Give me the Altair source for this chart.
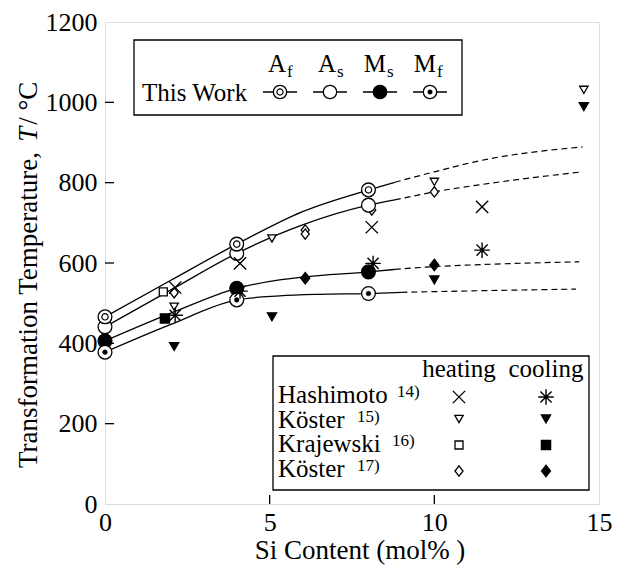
import altair as alt
import pandas as pd

FONT = "Liberation Serif"

# ---------------- data ----------------
# This Work (Si mol%, temperature degC)
tw_si = [0, 4, 8]
tw_Af = [466, 647, 782]
tw_As = [441, 624, 744]
tw_Ms = [406, 537, 578]
tw_Mf = [378, 508, 524]

# fitted curves (solid) and extrapolations (dashed)
af_fit_x = [0, 2, 4, 6, 8, 8.8]
af_fit_y = [466, 557, 647, 728, 782, 801]
af_ext_x = [8.8, 10, 11.4, 14.5]
af_ext_y = [801, 827, 855, 889]

as_fit_x = [0, 2, 4, 6, 8, 8.8]
as_fit_y = [441, 533, 624, 695, 744, 757]
as_ext_x = [8.8, 10, 11.4, 14.5]
as_ext_y = [757, 777, 795, 827]

ms_fit_x = [0, 2, 4, 5.3, 6, 8, 8.8]
ms_fit_y = [406, 475, 537, 558, 565, 578, 584]
ms_ext_x = [8.8, 10, 11.4, 14.4]
ms_ext_y = [584, 591, 596, 603]

mf_fit_x = [0, 2, 4, 5.3, 6.5, 8, 9]
mf_fit_y = [378, 447, 508, 518, 522, 524, 527]
mf_ext_x = [9, 11.4, 14.3]
mf_ext_y = [527, 531, 535]

# literature data
hash_h_x = [2.13, 4.1, 8.1, 11.45]
hash_h_y = [539, 599, 689, 740]
hash_c_x = [2.13, 4.1, 8.14, 11.45]
hash_c_y = [470, 530, 599, 632]

k15_h_x = [2.1, 5.07, 10.0, 14.54]
k15_h_y = [491, 661, 802, 1031]
k15_c_x = [2.1, 5.07, 10.0, 14.54]
k15_c_y = [392, 466, 558, 989]

kraj_h_x = [1.77]
kraj_h_y = [528]
kraj_c_x = [1.82]
kraj_c_y = [462]

k17_h_x = [2.1, 6.08, 6.08, 8.1, 10.0]
k17_h_y = [526, 682, 672, 732, 777]
k17_c_x = [6.08, 10.0]
k17_c_y = [562, 595]

x_tick_labels = [0, 5, 10, 15]
y_tick_labels = [0, 200, 400, 600, 800, 1000, 1200]
x_inner_ticks = [5, 10]
y_inner_ticks = [200, 400, 600, 800, 1000]

# ---------------- layout ----------------
W, H = 494, 482
LBL = 26
LEG = 25

xscale = alt.Scale(domain=[0, 15], nice=False, zero=False)
yscale = alt.Scale(domain=[0, 1200], nice=False, zero=False)
xaxis = alt.Axis(values=x_tick_labels, ticks=False, domain=False, grid=False,
                 labelFont=FONT, labelFontSize=LBL, labelColor="black",
                 labelPadding=5, labelFlush=False, title=None, format="d")
yaxis = alt.Axis(values=y_tick_labels, ticks=False, domain=False, grid=False,
                 labelFont=FONT, labelFontSize=LBL, labelColor="black",
                 labelPadding=8, labelFlush=False, title=None, format="d")

X = alt.X("x:Q", scale=xscale, axis=xaxis)
Y = alt.Y("y:Q", scale=yscale, axis=yaxis)

one = pd.DataFrame({"k": [0]})

X_PATH = "M-1,-1L1,1M1,-1L-1,1"
AST_PATH = "M-1,0L1,0M0,-1L0,1M-0.72,-0.72L0.72,0.72M-0.72,0.72L0.72,-0.72"
DIA_PATH = "M0,-1.15L0.9,0L0,1.15L-0.9,0Z"


def df(xs, ys):
    return pd.DataFrame({"x": xs, "y": ys})


def curve(xs, ys, dashed=False):
    kw = dict(color="black", strokeWidth=1.3, interpolate="monotone")
    if dashed:
        kw["strokeDash"] = [6, 4]
        kw["strokeWidth"] = 1.2
    return alt.Chart(df(xs, ys)).mark_line(**kw).encode(x=X, y=Y)


def pts(xs, ys, shape, size, fill=None, sw=1.3):
    if fill is None:
        m = alt.Chart(df(xs, ys)).mark_point(shape=shape, size=size, filled=False,
                                             color="black", strokeWidth=sw, opacity=1)
    else:
        m = alt.Chart(df(xs, ys)).mark_point(shape=shape, size=size, filled=True,
                                             fill=fill, stroke="black", strokeWidth=sw,
                                             fillOpacity=1, strokeOpacity=1, opacity=1)
    return m.encode(x=X, y=Y)


def txt(s, px, py, size=LEG, align="left", baseline="alphabetic", angle=0, style="normal"):
    return alt.Chart(one).mark_text(text=s, font=FONT, fontSize=size, align=align,
                                    baseline=baseline, angle=angle, fontStyle=style,
                                    color="black").encode(x=alt.value(px), y=alt.value(py))


def sym(px, py, shape, size, fill=None, sw=1.3):
    if fill is None:
        m = alt.Chart(one).mark_point(shape=shape, size=size, filled=False, color="black",
                                      strokeWidth=sw, opacity=1)
    else:
        m = alt.Chart(one).mark_point(shape=shape, size=size, filled=True, fill=fill,
                                      stroke="black", strokeWidth=sw, fillOpacity=1,
                                      strokeOpacity=1, opacity=1)
    return m.encode(x=alt.value(px), y=alt.value(py))


def hline(x1, x2, y, sw=1.3):
    return alt.Chart(one).mark_rule(color="black", strokeWidth=sw).encode(
        x=alt.value(x1), x2=alt.value(x2), y=alt.value(y))


def box(x1, x2, y1, y2):
    return alt.Chart(one).mark_rect(fill="white", stroke="black", strokeWidth=1.3).encode(
        x=alt.value(x1), x2=alt.value(x2), y=alt.value(y1), y2=alt.value(y2))


layers = []

# inward ticks
layers.append(alt.Chart(pd.DataFrame({"y": y_inner_ticks})).mark_rule(color="black", strokeWidth=1.3)
              .encode(y=Y, x=alt.value(0), x2=alt.value(9)))
layers.append(alt.Chart(pd.DataFrame({"x": x_inner_ticks})).mark_rule(color="black", strokeWidth=1.3)
              .encode(x=X, y=alt.value(H - 9), y2=alt.value(H)))

# curves
for fx, fy, ex, ey in [(af_fit_x, af_fit_y, af_ext_x, af_ext_y),
                       (as_fit_x, as_fit_y, as_ext_x, as_ext_y),
                       (ms_fit_x, ms_fit_y, ms_ext_x, ms_ext_y),
                       (mf_fit_x, mf_fit_y, mf_ext_x, mf_ext_y)]:
    layers.append(curve(fx, fy))
    layers.append(curve(ex, ey, dashed=True))

# literature: Koster 17 heating under the This Work circles
layers.append(pts(k17_h_x, k17_h_y, DIA_PATH, 80, fill="white"))

# This Work points
layers.append(pts(tw_si, tw_Ms, "circle", 190, fill="black"))
layers.append(pts(tw_si, tw_Mf, "circle", 190, fill="white"))
layers.append(pts(tw_si, tw_Mf, "circle", 22, fill="black", sw=0.5))
layers.append(pts(tw_si, tw_As, "circle", 190, fill="white"))
layers.append(pts(tw_si, tw_Af, "circle", 190, fill="white"))
layers.append(pts(tw_si, tw_Af, "circle", 40, fill="white", sw=1.2))

# literature points
layers.append(pts(kraj_h_x, kraj_h_y, "square", 64, fill="white"))
layers.append(pts(kraj_c_x, kraj_c_y, "square", 85, fill="black"))
layers.append(pts(k17_c_x, k17_c_y, DIA_PATH, 100, fill="black"))
layers.append(pts(k15_h_x, k15_h_y, "triangle-down", 70, fill="white"))
layers.append(pts(k15_c_x, k15_c_y, "triangle-down", 85, fill="black"))
layers.append(pts(hash_h_x, hash_h_y, X_PATH, 150, sw=1.4))
layers.append(pts(hash_c_x, hash_c_y, AST_PATH, 240, sw=1.4))

# ---------- top legend (This Work) ----------
layers.append(box(29, 357, 18, 93))
layers.append(txt("This Work", 37, 79))
tw_leg = [("A", "f", "circle2"), ("A", "s", "circle"), ("M", "s", "filled"), ("M", "f", "dot")]
for i, (big, sub, kind) in enumerate(tw_leg):
    cx = 175 + 50 * i
    cy = 70
    layers.append(hline(cx - 17, cx + 17, cy))
    if kind == "filled":
        layers.append(sym(cx, cy, "circle", 180, fill="black"))
    else:
        layers.append(sym(cx, cy, "circle", 180, fill="white"))
    if kind == "circle2":
        layers.append(sym(cx, cy, "circle", 38, fill="white", sw=1.2))
    if kind == "dot":
        layers.append(sym(cx, cy, "circle", 20, fill="black", sw=0.5))
    layers.append(txt(big, cx + 6, 50, align="right"))
    layers.append(txt(sub, cx + 7, 55, size=17))

# ---------- bottom legend (literature) ----------
layers.append(box(168, 484, 334, 468))
HX, CX = 354, 441
layers.append(txt("heating", HX, 355, align="center"))
layers.append(txt("cooling", CX, 355, align="center"))
rows = [("Hashimoto", "14)", 292, 381, 375, (X_PATH, 150, None), (AST_PATH, 240, None)),
        ("Köster", "15)", 252, 406, 397, ("triangle-down", 70, "white"), ("triangle-down", 85, "black")),
        ("Krajewski", "16)", 287, 430, 423, ("square", 64, "white"), ("square", 85, "black")),
        ("Köster", "17)", 252, 455, 449, (DIA_PATH, 80, "white"), (DIA_PATH, 100, "black"))]
for name, ref, rx, base, sy, hs, cs in rows:
    layers.append(txt(name, 173, base))
    layers.append(txt(ref, rx, base - 6, size=17))
    layers.append(sym(HX, sy, hs[0], hs[1], fill=hs[2], sw=1.4 if hs[2] is None else 1.3))
    layers.append(sym(CX, sy, cs[0], cs[1], fill=cs[2], sw=1.4 if cs[2] is None else 1.3))

# ---------- axis titles ----------
FT = 27
w1 = 12.08 * FT
wT = 0.556 * FT + 2
bottom = 446
TX = -68
layers.append(txt("Transformation Temperature, ", TX, bottom, size=FT, angle=270))
layers.append(txt("T", TX, bottom - w1, size=FT, angle=270, style="italic"))
layers.append(txt(" / °C", TX, bottom - w1 - wT, size=FT, angle=270))
layers.append(txt("Si Content (mol% )", 255, 537, size=FT, align="center"))

chart = alt.layer(*layers).properties(
    width=W, height=H,
    autosize=alt.AutoSizeParams(type="none"),
    padding={"left": 97, "top": 14, "right": 15, "bottom": 64},
).configure_view(stroke="black", strokeWidth=1.5).configure(background="white")

chart.save("out.html", embed_options={"renderer": "svg", "actions": False})
